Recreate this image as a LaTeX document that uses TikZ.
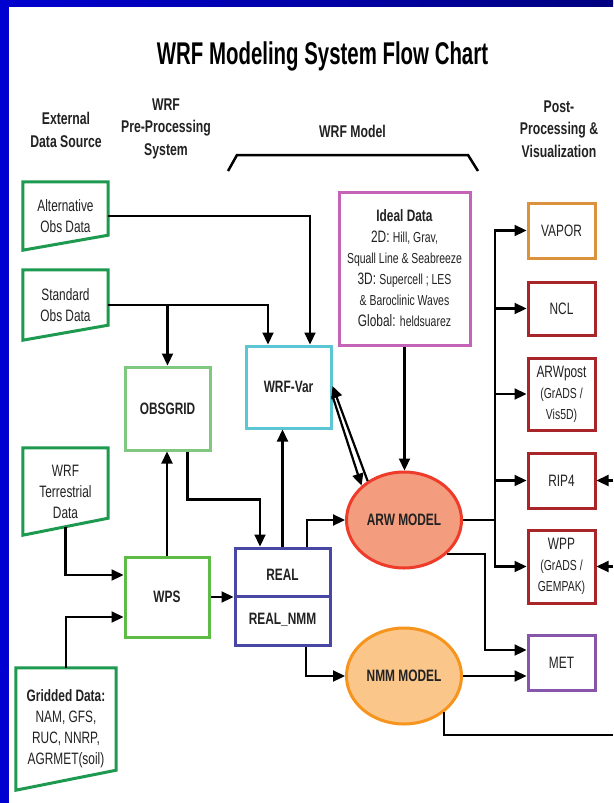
\documentclass[tikz,border=0pt]{standalone}
\usepackage{fontspec}
\setmainfont{Liberation Sans}[FakeStretch=0.72]
\newfontfamily\titlefont{Liberation Sans}[FakeStretch=0.65]
\usetikzlibrary{arrows.meta,shapes.geometric,calc}

\definecolor{frameblue}{HTML}{0000D0}
\definecolor{framenavy}{HTML}{000080}
\definecolor{txt}{HTML}{222222}
\definecolor{ingreen}{HTML}{1E9A50}
\definecolor{obsgreen}{HTML}{80C87F}
\definecolor{wpsgreen}{HTML}{5DBB46}
\definecolor{varcyan}{HTML}{5CC6D4}
\definecolor{realblue}{HTML}{4848A4}
\definecolor{idealpink}{HTML}{C564B6}
\definecolor{arwred}{HTML}{EE3B2A}
\definecolor{arwfill}{HTML}{F39C7E}
\definecolor{nmmorange}{HTML}{F7941D}
\definecolor{nmmfill}{HTML}{FBC689}
\definecolor{vaporor}{HTML}{DC923C}
\definecolor{postred}{HTML}{A8262A}
\definecolor{metpurple}{HTML}{8756AA}

\newcommand\nrm{\fontsize{16.5}{21}\selectfont}
\newcommand\sml{\fontsize{14.5}{19.5}\selectfont}

\begin{document}
\begin{tikzpicture}[x=1pt,y=-1pt,
	conn/.style={line width=2.2pt,black},
	arr/.style={conn,-{Triangle[length=12pt,width=11pt]}},
	hdr/.style={font=\bfseries\fontsize{17}{22.5}\selectfont,align=center,text=txt},
	inbox/.style={inner sep=0pt,font=\nrm,align=center,text=txt},
	pbox/.style={draw=#1,line width=3pt,fill=white,inner sep=0pt,font=\nrm\bfseries,align=center,text=txt},
	post/.style={draw=#1,line width=3pt,fill=white,minimum width=67pt,inner sep=0pt,font=\nrm,align=center,text=txt},
	model/.style={ellipse,draw=#1,line width=3pt,minimum width=115pt,minimum height=96pt,inner sep=0pt,font=\nrm\bfseries,text=txt}]
	\useasboundingbox (0,0) rectangle (613,803);
	\fill[white] (0,0) rectangle (613,803);
	\fill[frameblue] (0,0) rectangle (9,803);
	\shade[left color=frameblue,right color=framenavy] (0,0) rectangle (613,6);

	% headings
	\node[anchor=base,font=\titlefont\bfseries\fontsize{31.4}{36}\selectfont] (ttl) at (322.5,64) {WRF Modeling System Flow Chart};
	\node[hdr] (hext) at (66,130) {External\\Data Source};
	\node[hdr] (hpre) at (166,128.5) {WRF\\Pre-Processing\\System};
	\node[hdr] (hmod) at (352.5,131) {WRF Model};
	\node[hdr] (hpost) at (559,129) {Post-\\Processing \&\\Visualization};
	\draw[conn,line width=2.5pt] (228,171) -- (237,155) -- (468,155) -- (478,171);

	% data sources
	\node[inbox,minimum width=85pt,minimum height=68pt] (alt) at (65.5,216) {Alternative\\Obs Data};
	\node[inbox,minimum width=85pt,minimum height=70pt] (std) at (65.5,305) {Standard\\Obs Data};
	\node[inbox,minimum width=85pt,minimum height=87pt] (ter) at (65.5,491.5) {WRF\\Terrestrial\\Data};
	\node[inbox,minimum width=100pt,minimum height=122pt] (grid) at (66,729) {\textbf{Gridded Data:}\\NAM, GFS,\\RUC, NNRP,\\AGRMET(soil)};
	\foreach \n/\s in {alt/15,std/15,ter/17,grid/20}
		\draw[ingreen,line width=3pt] (\n.north west) -- (\n.north east) -- ([yshift=\s pt]\n.south east) -- (\n.south west) -- cycle;

	% pre-processing and model
	\node[pbox=obsgreen,minimum width=85pt,minimum height=83pt] (obs) at (167.5,408.5) {OBSGRID};
	\node[pbox=wpsgreen,minimum width=84pt,minimum height=80pt] (wps) at (167,597) {WPS};
	\node[pbox=varcyan,minimum width=85pt,minimum height=82pt] (var) at (288.5,387) {WRF-Var};
	\node[pbox=realblue,minimum width=95pt,minimum height=97pt] (real) at (282.5,596.5) {};
	\draw[realblue,line width=3pt] (real.west) -- (real.east);
	\node[font=\nrm\bfseries,text=txt] (realarw) at (282.5,575) {REAL};
	\node[font=\nrm\bfseries,text=txt] (realnmm) at (282.5,620) {REAL\_NMM};
	\node[pbox=idealpink,minimum width=131pt,minimum height=153pt,font=\nrm] (ideal) at (404.5,268.5)
		{\textbf{Ideal Data}\\2D: {\sml Hill, Grav,}\\{\sml Squall Line \& Seabreeze}\\3D: {\sml Supercell ; LES}\\{\sml \& Baroclinic Waves}\\Global: {\sml heldsuarez}};
	\node[model=arwred,fill=arwfill] (arw) at (404,520) {ARW MODEL};
	\node[model=nmmorange,fill=nmmfill] (nmm) at (404,676) {NMM MODEL};

	% post-processing
	\node[post=vaporor,minimum height=55pt] (vapor) at (561.5,230.5) {VAPOR};
	\node[post=postred,minimum height=53pt] (ncl) at (561.5,308.5) {NCL};
	\node[post=postred,minimum height=72pt] (arwpost) at (561.5,394) {ARWpost\\{\sml (GrADS /}\\{\sml Vis5D)}};
	\node[post=postred,minimum height=55pt] (rip4) at (561.5,480.5) {RIP4};
	\node[post=postred,minimum height=73pt] (wpp) at (561.5,566.5) {WPP\\{\sml (GrADS /}\\{\sml GEMPAK)}};
	\node[post=metpurple,minimum height=55pt] (met) at (561.5,662.5) {MET};

	% connectors
	\draw[arr] (alt.east) -| ([xshift=21.5pt]var.north);
	\draw[arr] (std.east) -| ([xshift=-20.5pt]var.north);
	\draw[arr] (std.east -| obs.north) -- (obs.north);
	\draw[arr] ($(ter.south west)!.5!([yshift=17pt]ter.south east)$) |- ([yshift=22pt]wps.west);
	\draw[arr] (grid.north) |- ([yshift=-20pt]wps.west);
	\draw[arr] (wps.north) -- (wps.north |- obs.south);
	\draw[arr] ([xshift=20pt]obs.south) -- ++(0,48) -| ([xshift=-22.5pt]real.north);
	\draw[arr] (wps.east) -- (wps.east -| real.west);
	\draw[arr] (real.north) -- (real.north |- var.south);
	\draw[arr] ([xshift=24.5pt]real.north) |- (arw.west);
	\draw[arr] ([xshift=23.5pt]real.south) |- (nmm.west);
	\draw[arr] (ideal.south) -- (ideal.south |- arw.north);
	\draw[arr] ([yshift=-9pt]var.east) -- (arw.141);
	\draw[arr] (arw.133) -- ([yshift=1pt]var.east);
	\coordinate (jn) at (495,520);
	\draw[conn] (arw.east) -- (jn);
	\draw[conn,line cap=rect] (jn |- vapor.west) -- (jn |- wpp.west);
	\foreach \n in {vapor,ncl,arwpost,rip4,wpp}
		\draw[arr] (jn |- \n.west) -- (\n.west);
	\coordinate (mj) at (485,650);
	\draw[arr] (arw.-38) -| (mj) -- (mj -| met.west);
	\draw[arr] (nmm.east) -- (nmm.east -| met.west);
	\coordinate (rout) at (613,735);
	\draw[conn] (nmm.-42) |- (rout);
	\coordinate (rin) at (613,0);
	\draw[arr] (rin |- rip4.east) -- (rip4.east);
	\draw[arr] (rin |- wpp.east) -- (wpp.east);
\end{tikzpicture}
\end{document}
